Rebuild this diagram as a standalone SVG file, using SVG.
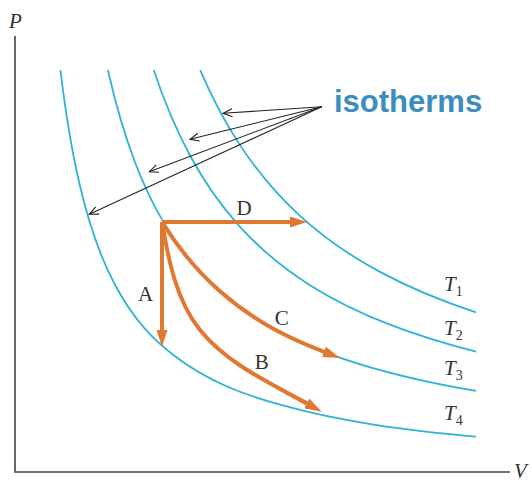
<svg xmlns="http://www.w3.org/2000/svg" width="532" height="482" viewBox="0 0 532 482">
<style>
.iso{fill:none;stroke:#2fb3d5;stroke-width:1.8}
.proc{fill:none;stroke:#e07832;stroke-width:4;marker-end:url(#oh)}
.ann{fill:none;stroke:#222;stroke-width:1.1;marker-end:url(#vh)}
.lbl{font-family:"Liberation Serif","Times New Roman",serif;font-size:21px;fill:#333}
.it{font-style:italic}
.sub{font-size:14px;font-style:normal}
.axis{fill:none;stroke:#444;stroke-width:1.6}
</style>
<defs>
<marker id="oh" markerUnits="userSpaceOnUse" viewBox="0 0 17 11" markerWidth="17" markerHeight="11" refX="1" refY="5.5" orient="auto">
<path d="M0,0 L17,5.5 L0,11 z" fill="#e07832"/>
</marker>
<marker id="vh" markerUnits="userSpaceOnUse" viewBox="-10 -5 11 10" markerWidth="11" markerHeight="10" refX="0" refY="0" orient="auto">
<path d="M-9,-4 L0,0 L-9,4" fill="none" stroke="#222" stroke-width="1.1"/>
</marker>
</defs>

<g id="axes">
<path class="axis" d="M15,36 V472 H510"/>
<text class="lbl it" x="9" y="28">P</text>
<text class="lbl it" x="514" y="478">V</text>
</g>

<g id="isotherms">
<path id="T1" class="iso" d="M200.2,70.04 C213.47,101.07 226.73,124.93 240,145.12 C260,175.55 280,197.57 300,215.81 C326.67,240.13 353.33,257.53 380,271.9 C412,289.15 444,301.82 476,312.39"/>
<path id="T2" class="iso" d="M153.7,70.08 C165.8,106.35 177.9,133.15 190,155.51 C206.67,186.31 223.33,208.47 240,226.8 C263.33,252.47 286.67,270.4 310,285.14 C336.67,301.98 363.33,314.38 390,324.71 C418.67,335.81 447.33,344.42 476,351.72"/>
<path id="T3" class="iso" d="M107.9,70.02 C116.93,109.96 125.97,138.57 135,162.21 C144,185.77 153,204.09 162,219.67 C181.33,253.13 200.67,274.26 220,291.3 C253.33,320.67 286.67,337.13 320,350.29 C372,370.82 424,382 476,390.94"/>
<path id="T4" class="iso" d="M60.4,70.02 C66.93,123.87 73.47,158.22 80,185.96 C91.67,235.49 103.33,262.85 115,284.74 C135,322.27 155,341.1 175,356.24 C210,382.72 245,394.87 280,404.73 C345.33,423.14 410.67,430.53 476,436.7"/>
</g>

<g id="processes">
<path id="D" class="proc" d="M162,222 H291"/>
<path id="A" class="proc" d="M162,222 V331"/>
<path id="C" class="proc" d="M162,222 C181.33,253.13 200.67,274.26 220,291.3 C254.96,322.11 289.93,338.82 324.89,352.19"/>
<path id="B" class="proc" d="M162,222 C168.4,259.5 176.1,300.4 200,330 C227.3,363.8 269.6,382.8 307.7,403.9"/>
</g>

<g id="labels">
<text class="lbl" x="244" y="215" text-anchor="middle">D</text>
<text class="lbl" x="145.5" y="301" text-anchor="middle">A</text>
<text class="lbl" x="281.7" y="325" text-anchor="middle">C</text>
<text class="lbl" x="261.7" y="369" text-anchor="middle">B</text>
<text class="lbl it" x="444" y="291">T<tspan class="sub" dy="5">1</tspan></text>
<text class="lbl it" x="444" y="335">T<tspan class="sub" dy="5">2</tspan></text>
<text class="lbl it" x="444" y="375">T<tspan class="sub" dy="5">3</tspan></text>
<text class="lbl it" x="444" y="420">T<tspan class="sub" dy="5">4</tspan></text>
</g>

<g id="annotation">
<text x="334" y="112" font-family="'Liberation Sans',Arial,sans-serif" font-weight="bold" font-size="31" fill="#3c8dbf">isotherms</text>
<path class="ann" d="M321.7,106.7 L223.3,113.3"/>
<path class="ann" d="M321.7,106.7 L190,139.3"/>
<path class="ann" d="M321.7,106.7 L149.3,171.7"/>
<path class="ann" d="M321.7,106.7 L89.3,214.3"/>
</g>
</svg>
